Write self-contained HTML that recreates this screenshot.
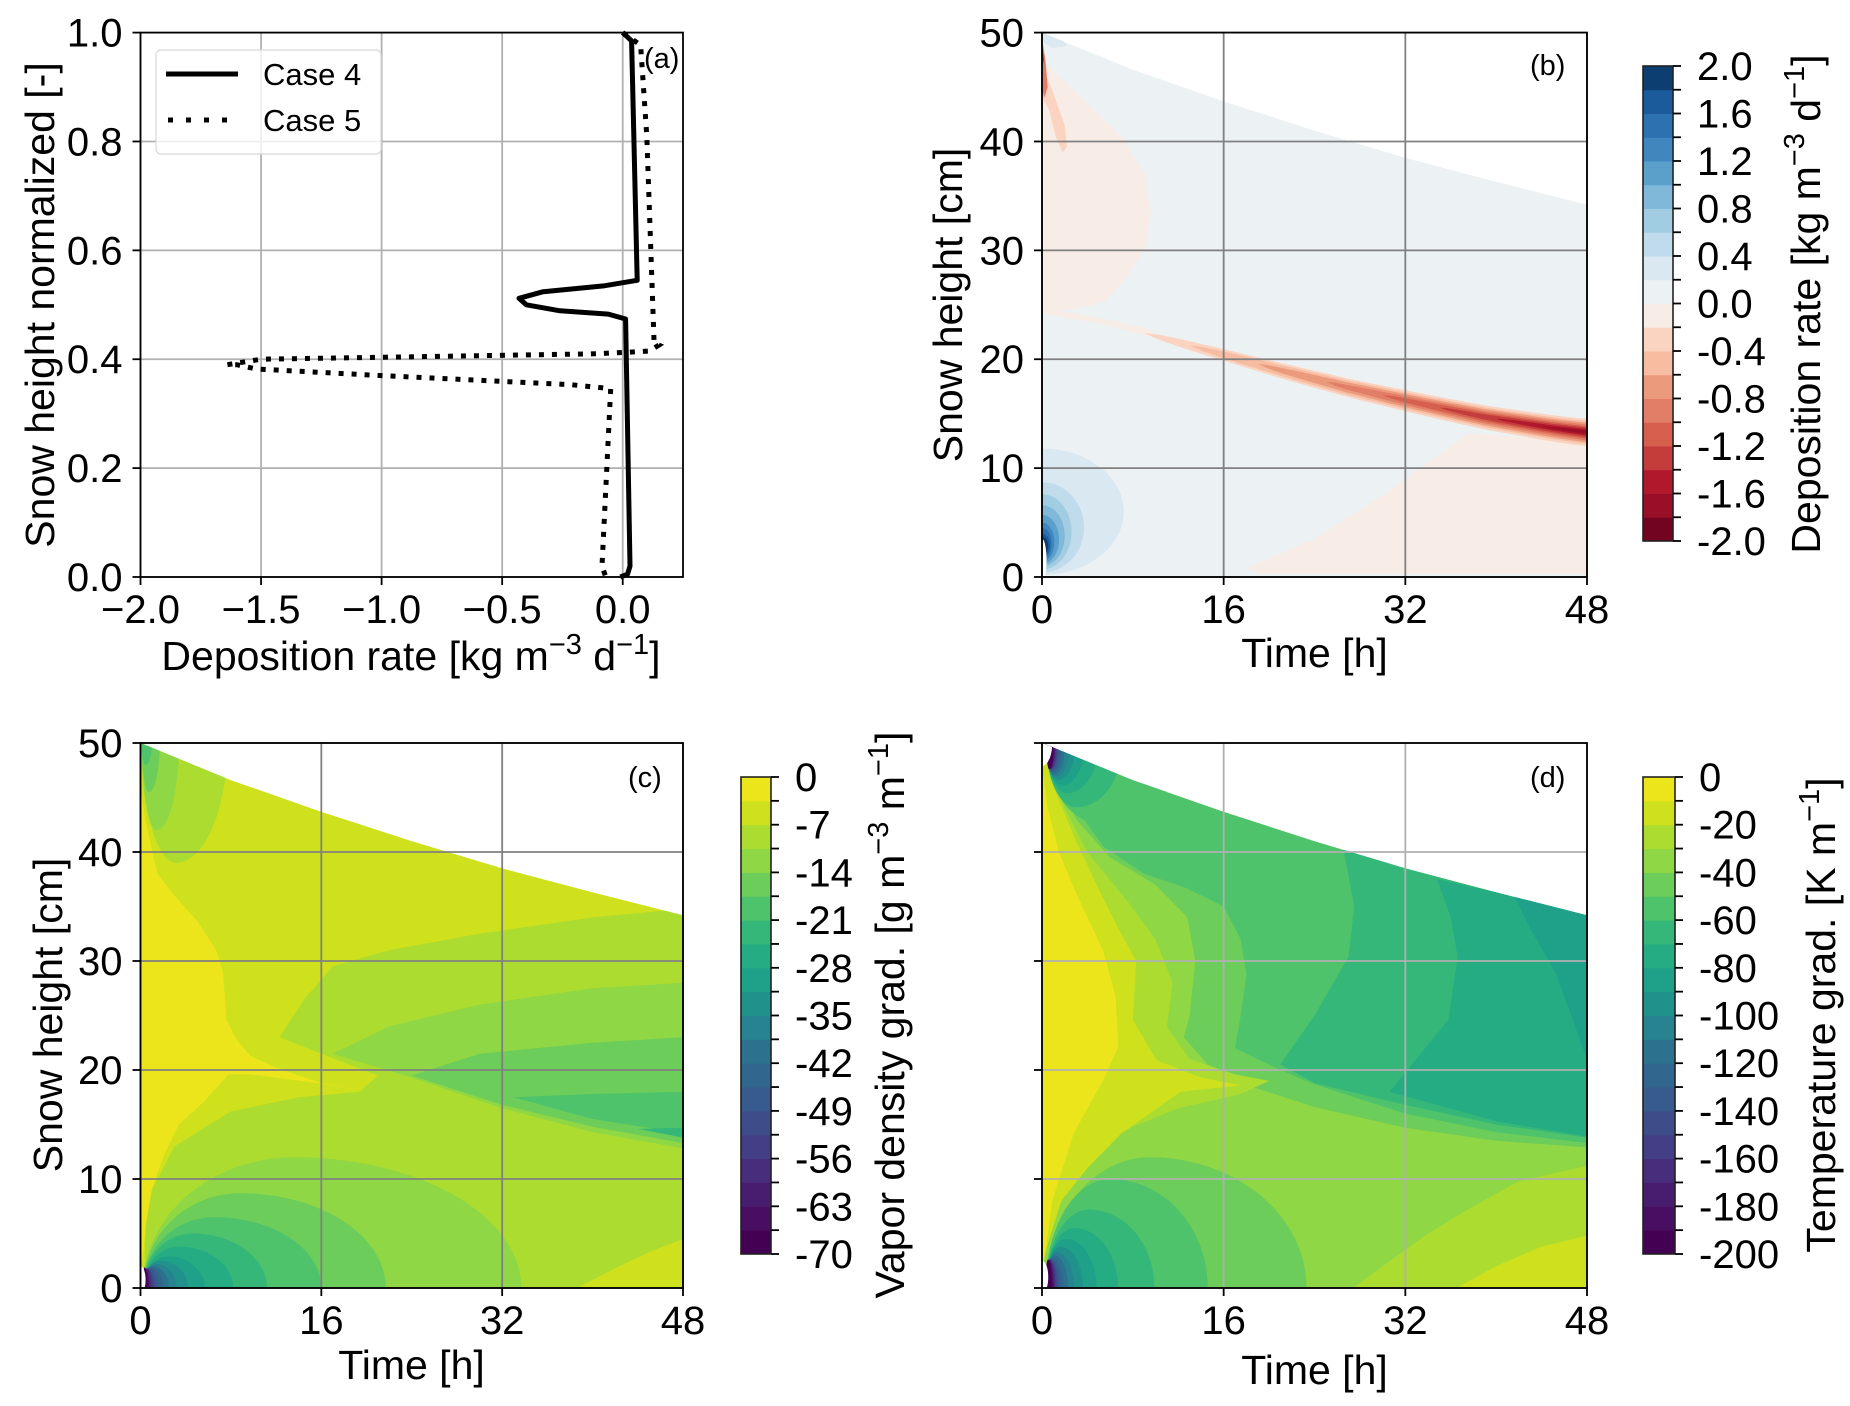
<!DOCTYPE html>
<html><head><meta charset="utf-8">
<style>
html,body{margin:0;padding:0;background:#fff;}
svg{display:block;font-family:"Liberation Sans",Arial,sans-serif;}
</style></head>
<body>
<svg id="fig" width="1850" height="1406" viewBox="0 0 1850 1406" xmlns="http://www.w3.org/2000/svg">
<defs id="defs"></defs>
</svg>
<script>
// ---------- Panel (a) data ----------
const aXTicks = [-2.0, -1.5, -1.0, -0.5, 0.0];
const aXTickLabels = ['\u22122.0', '\u22121.5', '\u22121.0', '\u22120.5', '0.0'];
const aYTicks = [0.0, 0.2, 0.4, 0.6, 0.8, 1.0];
const aYTickLabels = ['0.0', '0.2', '0.4', '0.6', '0.8', '1.0'];
const case4X = [0.0, 0.037, 0.06, -0.074, -0.33, -0.43, -0.40, -0.26, -0.06, 0.012, 0.03, 0.02, -0.01];
const case4Y = [1.0, 0.985, 0.545, 0.535, 0.524, 0.512, 0.50, 0.489, 0.483, 0.474, 0.02, 0.005, 0.0];
const case5X = [0.0, 0.074, 0.10, 0.13, 0.15, 0.11, -0.11, -1.5, -1.64, -1.60, -1.52, -1.0, -0.21, -0.05, -0.086, -0.07];
const case5Y = [1.0, 0.977, 0.81, 0.43, 0.426, 0.415, 0.41, 0.40, 0.39, 0.39, 0.382, 0.37, 0.353, 0.346, 0.02, 0.0];

// ---------- Shared time/height data ----------
const timeTicks = [0, 16, 32, 48];
const heightTicks = [0, 10, 20, 30, 40, 50];
const snowTimes = [0, 8, 16, 24, 32, 40, 48];
const snowTop = [50, 46.6, 43.7, 41.0, 38.5, 36.3, 34.2];

// ---------- Colormaps ----------
const rdbu = ['#730421','#990f27','#b2182b','#c43c3c','#d6604d','#e27e67','#ec9a7c','#f6bda2','#fad4c0','#f8ece6',
              '#ecf1f4','#d9e8f1','#c0dcec','#a2cce2','#7fb8d8','#5b9fcb','#4087c0','#2c71b0','#1b5a9b','#0c3e72'];
const viridis = ['#ede51b','#cfe11c','#addc30','#8fd744','#6ccd5a','#4ec36b','#35b779','#25ac82','#1fa088','#21918c',
                 '#26838f','#2c728e','#31668e','#375b8d','#3e4c8a','#433e85','#472d7b','#481d6f','#470e61','#440154'];
const bCbarLabels = ['2.0','1.6','1.2','0.8','0.4','0.0','-0.4','-0.8','-1.2','-1.6','-2.0'];
const cCbarLabels = ['0','-7','-14','-21','-28','-35','-42','-49','-56','-63','-70'];
const dCbarLabels = ['0','-20','-40','-60','-80','-100','-120','-140','-160','-180','-200'];

// ---------- Panel (b) contour data (time h, height cm), level index into rdbu ----------
const bBlobRedPts = [[0,24.5],[3,24.6],[5.5,25.3],[7.5,27.5],[9.2,30.5],[9.6,33.5],[9,37],[7,40.5],[4,43.5],[1.5,46],[0,47.5]];
const bBandPts = [[0,24.8],[6,23.6],[9,22.9],[12,21.4],[9,22.2],[5,23.3],[0,24.2]];
const bTrianglePts = [[18,0.8],[24,3.5],[30,7.5],[37.6,13.2],[48,12.4],[48,0.3],[19,0.3]];
const bSliver1 = [[0,47],[0.8,45],[2,41.5],[2.2,39.5],[1.8,39],[1.2,40.5],[0.6,43],[0,44]];
const bSliver2 = [[0,49.5],[0.3,47.5],[0.5,45],[0.2,44],[0,45]];
const bSliver3 = [[0,49.4],[0.15,47.5],[0,46.5]];
const bTopBlue = [[0,50],[1.5,49.6],[2.2,48.8],[1,48.6],[0.2,49]];
const streakT = [9, 15, 21, 27, 33, 39, 45, 48];
const streakZ = [22.4, 20.7, 19.0, 17.4, 16.0, 14.7, 13.7, 13.3];
const streakLevels = [8, 7, 6, 5, 4, 3, 2, 1];
const streakStart = [9, 13, 19, 25, 30, 35, 40, 44];
const streakHalfWidth = [1.2, 1.0, 0.85, 0.7, 0.55, 0.42, 0.28, 0.15];
const bBlueLevels = [11, 12, 13, 14, 15, 16, 17, 18, 19];
const bBlueT = [7.2, 3.7, 2.6, 2.0, 1.5, 1.1, 0.85, 0.7, 0.55];
const bBlueLo = [0.2, 0.4, 0.7, 1.0, 1.2, 1.4, 1.6, 1.8, 2.0];
const bBlueHi = [11.8, 8.7, 7.6, 6.6, 5.7, 5.0, 4.5, 4.0, 3.7];

// ---------- Panel (c) contour data, level index into viridis ----------
const cRegion2 = [[0.3,0],[0.5,8],[3,13],[8,16.2],[14,17.5],[19.4,18],[21,19.5],[16,21.5],[12.3,23],[14.5,26.5],[17,29.5],[22,31],[30,32.5],[40,34],[48,34.8],[48,0]];
const cRegion3 = [[17,21.5],[22,24],[30,26],[40,27.5],[48,28],[48,12.8],[40,14.3],[32,16.5],[24,19.3]];
const cRegion4 = [[24,19.5],[30,21.5],[40,22.5],[48,23],[48,13.3],[40,14.8],[32,16.8]];
const cRegion5 = [[33,17.5],[40,17.8],[48,18],[48,14.2],[40,15.5]];
const cRegion6 = [[44,14.6],[48,14.7],[48,13.8]];
const cYellowLeft = [[0,46],[0.4,43],[1.5,38],[3,36],[5,33.7],[6.7,31],[7.3,29],[7.5,26],[7.6,24.6],[8.5,22.8],[9.7,21.3],[12,20.2],[16,18.8],[19.4,18.2],[15,18.9],[9.8,19.6],[7.8,19.6],[5.5,17],[3.4,15],[2,12],[1,9],[0.5,6],[0.2,3],[0,2]];
const cYellowRight = [[38.6,0],[42,1.8],[45,3.3],[48,4.5],[48,0]];
const cBotLevels = [3,4,5,6,7,8,9,10,11,12,13,14,15,16,17,18,19];
const cBotT = [33.5,21.5,15.8,11,8,5.5,4,3,2.3,1.8,1.4,1.1,0.9,0.75,0.6,0.5,0.4];
const cBotZ = [12,8.7,6.5,5,3.8,2.9,2.5,2.2,2.0,1.9,1.85,1.8,1.8,1.8,1.8,1.8,1.9];
const cTopLevels = [2,3,4,5];
const cTopT = [7.6,3.3,1.6,0.9];
const cTopZ = [11,8,4.5,2];

// ---------- Panel (d) contour data ----------
const dRegion4 = [[0,50],[3,44],[5.4,40.5],[9,38],[12.7,36.7],[16,35],[17.5,32],[18,28.8],[17.5,25],[17,22],[21,20],[24,18.7],[32,16],[40,14.3],[48,13.3],[48,0],[0,0]];
const dRegion6 = [[26.4,41],[32,38.5],[40,36.3],[48,34.2],[48,13.8],[40,15],[32,16.8],[24,18.8],[21,20.5],[24,25],[27,30.4],[27.5,35]];
const dRegion7 = [[34.8,37.5],[40,36.3],[48,34.2],[48,13.9],[40,15.3],[30.6,18],[35.8,24.6],[36.6,30.4],[36,34]];
const dRegion8 = [[41.6,36],[48,34.2],[48,21],[45.3,28.8],[43,33]];
const dRegion3 = [[0,50],[0.5,49],[3,43],[6,39.5],[10,37],[12.8,34],[13.5,30],[13,25],[12.5,23],[15,20],[17.5,18.8],[24,16.6],[32,14.7],[40,13.5],[48,12.9],[48,0],[0,0]];
const dRegion2Right = [[27.4,0],[30,2],[34,5],[38,7.5],[42,9.8],[48,11.2],[48,0]];
const dRegion1Right = [[36.5,0],[40,2],[44,3.8],[48,4.8],[48,0]];
const dStrip2 = [[0,49.8],[2,44],[4,40],[7.5,35.5],[10,32],[11.5,28],[11,24],[13,21],[17,19.6],[20,19],[17.5,17.8],[12,16.5],[8,14.8],[5,13],[2.5,10.5],[1,7],[0,3]];
const dStrip1 = [[0,49.5],[1,46],[3,41],[4.8,37],[6.7,33],[8.3,30],[8,24.6],[10.1,20.9],[14,19.3],[17.5,18.6],[12.2,18],[7,14.2],[4,11],[1.7,8],[0.5,4],[0,2]];
const dStrip0 = [[0,48],[0.5,44],[1.5,40],[2.8,36.7],[5.4,30.9],[6.5,26.7],[6.7,22.1],[5.4,19.1],[2.8,14.2],[0.9,8],[0.2,2.6],[0,2]];
const dBotLevels = [4,5,6,7,8,9,10,11,12,13,14,15,16,17,18,19];
const dBotT = [23,14.3,9.6,6.4,4.5,3.3,2.5,2.0,1.6,1.3,1.1,0.95,0.85,0.75,0.65,0.55];
const dBotZ = [12,10,7.2,5.5,4.5,3.8,3.3,3.0,2.8,2.7,2.6,2.6,2.6,2.6,2.6,2.6];
const dTopLevels = [5,6,7,8,9,10,11,12,13,14,15,16,17,18,19];
const dTopT = [12,6.6,4.5,3.3,2.5,2.0,1.6,1.35,1.15,1.0,0.9,0.8,0.72,0.65,0.58];
const dTopZ = [7,5.5,4.2,3.5,3.0,2.7,2.5,2.3,2.2,2.1,2.0,2.0,2.0,2.0,2.0];

// ---------- Layout ----------
const NS = 'http://www.w3.org/2000/svg';
const svg = document.getElementById('fig');
const defs = document.getElementById('defs');
const PA = {x0:140.5, x1:683, y0:32.6, y1:577, xmin:-2, xmax:0.25, ymin:0, ymax:1};
const PB = {x0:1042, x1:1587, y0:32.6, y1:577, xmin:0, xmax:48, ymin:0, ymax:50};
const PC = {x0:140.5, x1:683, y0:743, y1:1288, xmin:0, xmax:48, ymin:0, ymax:50};
const PD = {x0:1042, x1:1587, y0:743, y1:1288, xmin:0, xmax:48, ymin:0, ymax:50};
const FS = 40;
const LFS = 41;
function sx(P, v) { return P.x0 + (v - P.xmin) / (P.xmax - P.xmin) * (P.x1 - P.x0); }
function sy(P, v) { return P.y1 - (v - P.ymin) / (P.ymax - P.ymin) * (P.y1 - P.y0); }
function el(tag, parent) { const e = document.createElementNS(NS, tag); parent.appendChild(e); return e; }
function ptsStr(P, pts) { return pts.map(p => sx(P, p[0]).toFixed(1) + ',' + sy(P, p[1]).toFixed(1)).join(' '); }

function region(P, g, pts, color, name) {
  const p = el('polygon', g);
  p.setAttribute('points', ptsStr(P, pts));
  p.setAttribute('fill', color);
  
  
  return p;
}
function lobePts(t0, z0, T, Z, dir) {
  const pts = [];
  for (let k = 0; k <= 48; k++) {
    const th = Math.PI * k / 48;
    const a = th < Math.PI / 2 ? 0.6 * T : 0.4 * T;
    pts.push([t0 + 0.4 * T + a * Math.cos(th), z0 + dir * Z * Math.sin(th)]);
  }
  pts.push([t0 - 0.5, z0 - dir * 1.5]);
  pts.push([t0 + T, z0 - dir * 1.5]);
  return pts;
}
function ellPts(T, lo, hi) {
  const pts = []; const mid = (lo + hi) / 2, h = (hi - lo) / 2;
  for (let k = 0; k <= 48; k++) {
    const th = -Math.PI / 2 + Math.PI * k / 48;
    pts.push([T * Math.cos(th), mid + h * Math.sin(th)]);
  }
  pts.push([-1, hi]); pts.push([-1, lo]);
  return pts;
}
function domainPts() {
  const pts = [[0, 0]];
  for (let i = 0; i < snowTimes.length; i++) pts.push([snowTimes[i], snowTop[i]]);
  pts.push([48, 0]);
  return pts;
}
function makeClip(P, id) {
  const cp = el('clipPath', defs);
  cp.setAttribute('id', id);
  const p = el('polygon', cp);
  p.setAttribute('points', ptsStr(P, domainPts()));
}
function text(parent, x, y, str, size, anchor) {
  const t = el('text', parent);
  t.setAttribute('x', x); t.setAttribute('y', y);
  t.setAttribute('font-size', size);
  t.setAttribute('text-anchor', anchor || 'middle');
  t.textContent = str;
  return t;
}
function grid(P, g, xs, ys, color) {
  xs.forEach(v => {
    const l = el('line', g);
    l.setAttribute('x1', sx(P, v)); l.setAttribute('x2', sx(P, v));
    l.setAttribute('y1', P.y0); l.setAttribute('y2', P.y1);
    l.setAttribute('stroke', color); l.setAttribute('stroke-width', 1.8);
    
    
  });
  ys.forEach(v => {
    const l = el('line', g);
    l.setAttribute('x1', P.x0); l.setAttribute('x2', P.x1);
    l.setAttribute('y1', sy(P, v)); l.setAttribute('y2', sy(P, v));
    l.setAttribute('stroke', color); l.setAttribute('stroke-width', 1.8);
    
    
  });
}
function axes(P, g, xs, xl, ys, yl) {
  const r = el('rect', g);
  r.setAttribute('x', P.x0); r.setAttribute('y', P.y0);
  r.setAttribute('width', P.x1 - P.x0); r.setAttribute('height', P.y1 - P.y0);
  r.setAttribute('fill', 'none'); r.setAttribute('stroke', '#000'); r.setAttribute('stroke-width', 1.8);
  
  
  xs.forEach((v, i) => {
    const l = el('line', g);
    l.setAttribute('x1', sx(P, v)); l.setAttribute('x2', sx(P, v));
    l.setAttribute('y1', P.y1); l.setAttribute('y2', P.y1 + 8);
    l.setAttribute('stroke', '#000'); l.setAttribute('stroke-width', 1.8);
    
    
    const t = text(g, sx(P, v), P.y1 + 46, xl[i], FS);
    
    
  });
  ys.forEach((v, i) => {
    const l = el('line', g);
    l.setAttribute('x1', P.x0 - 8); l.setAttribute('x2', P.x0);
    l.setAttribute('y1', sy(P, v)); l.setAttribute('y2', sy(P, v));
    l.setAttribute('stroke', '#000'); l.setAttribute('stroke-width', 1.8);
    
    
    if (yl) {
      const t = text(g, P.x0 - 18, sy(P, v) + 14, yl[i], FS, 'end');
      
      
    }
  });
}
function addParts(t, parts) {
  parts.forEach(p => {
    const s = el('tspan', t);
    s.textContent = p[0];
    if (p[1]) s.setAttribute('dy', p[1]);
    if (p[2]) s.setAttribute('font-size', 29);
  });
}
function rotLabel(parent, x, y, parts, name) {
  const t = el('text', parent);
  t.setAttribute('x', x); t.setAttribute('y', y);
  t.setAttribute('font-size', LFS);
  t.setAttribute('text-anchor', 'middle');
  t.setAttribute('transform', 'rotate(-90 ' + x + ' ' + y + ')');
  addParts(t, parts);
  
  
  return t;
}
function colorbar(g, x0, x1, y0, y1, colorsBottomUp, labels, name) {
  const n = colorsBottomUp.length, h = (y1 - y0) / n;
  for (let i = 0; i < n; i++) {
    const r = el('rect', g);
    r.setAttribute('x', x0); r.setAttribute('y', y1 - (i + 1) * h);
    r.setAttribute('width', x1 - x0); r.setAttribute('height', h + 0.5);
    r.setAttribute('fill', colorsBottomUp[i]);
    
    
  }
  const o = el('rect', g);
  o.setAttribute('x', x0); o.setAttribute('y', y0);
  o.setAttribute('width', x1 - x0); o.setAttribute('height', y1 - y0);
  o.setAttribute('fill', 'none'); o.setAttribute('stroke', '#222'); o.setAttribute('stroke-width', 1.6);
  
  
  for (let i = 0; i <= n; i++) {
    const y = y0 + i * h;
    const l = el('line', g);
    l.setAttribute('x1', x1); l.setAttribute('x2', x1 + 8);
    l.setAttribute('y1', y); l.setAttribute('y2', y);
    l.setAttribute('stroke', '#000'); l.setAttribute('stroke-width', 1.8);
    
    
    if (i % 2 === 0) {
      const t = text(g, x1 + 24, y + 14, labels[i / 2], FS, 'start');
      
      
    }
  }
}
const depUnit = [['Deposition rate [kg m'], ['\u22123', -16, true], [' d', 16], ['\u22121', -16, true], [']', 16]];

// ================= Panel (a) =================
const ga = el('g', svg);


grid(PA, ga, aXTicks, aYTicks, '#b0b0b0');
function linePath(P, xs, ys) { return xs.map((v, i) => (i ? 'L' : 'M') + sx(P, v).toFixed(1) + ',' + sy(P, ys[i]).toFixed(1)).join(' '); }
const c5 = el('path', ga);
c5.setAttribute('d', linePath(PA, case5X, case5Y));
c5.setAttribute('fill', 'none'); c5.setAttribute('stroke', '#000'); c5.setAttribute('stroke-width', 5);
c5.setAttribute('stroke-dasharray', '5 8');


const c4 = el('path', ga);
c4.setAttribute('d', linePath(PA, case4X, case4Y));
c4.setAttribute('fill', 'none'); c4.setAttribute('stroke', '#000'); c4.setAttribute('stroke-width', 5);
c4.setAttribute('stroke-linejoin', 'round');


axes(PA, ga, aXTicks, aXTickLabels, aYTicks, aYTickLabels);
const lg = el('g', ga);


const lb = el('rect', lg);
lb.setAttribute('x', 156); lb.setAttribute('y', 50); lb.setAttribute('width', 225); lb.setAttribute('height', 104);
lb.setAttribute('rx', 5); lb.setAttribute('fill', 'rgba(255,255,255,0.8)'); lb.setAttribute('stroke', '#d8d8d8'); lb.setAttribute('stroke-width', 1.2);


const l4 = el('line', lg);
l4.setAttribute('x1', 166); l4.setAttribute('x2', 238); l4.setAttribute('y1', 74); l4.setAttribute('y2', 74);
l4.setAttribute('stroke', '#000'); l4.setAttribute('stroke-width', 5);


const t4 = text(lg, 263, 85, 'Case 4', 31, 'start');


const l5 = el('line', lg);
l5.setAttribute('x1', 168); l5.setAttribute('x2', 238); l5.setAttribute('y1', 120); l5.setAttribute('y2', 120);
l5.setAttribute('stroke', '#000'); l5.setAttribute('stroke-width', 5); l5.setAttribute('stroke-dasharray', '5 13');


const t5 = text(lg, 263, 131, 'Case 5', 31, 'start');


const pa = text(ga, 644, 68, '(a)', 29, 'start');


const xla = el('text', ga);
xla.setAttribute('x', 411); xla.setAttribute('y', 670); xla.setAttribute('font-size', LFS); xla.setAttribute('text-anchor', 'middle');
addParts(xla, depUnit);


rotLabel(ga, 54, 305, [['Snow height normalized [-]']], 'y-axis-title-a');

// ================= Panel (b) =================
makeClip(PB, 'clipB');
const gb = el('g', svg);


const fb = el('g', gb);
fb.setAttribute('clip-path', 'url(#clipB)');


region(PB, fb, domainPts(), rdbu[10], 'contour-zero-level');
region(PB, fb, bBlobRedPts, rdbu[9], 'contour-negative-blob');
region(PB, fb, bBandPts, rdbu[9], 'contour-negative-band');
region(PB, fb, bTrianglePts, rdbu[9], 'contour-negative-triangle');
function streakCenter(t) {
  for (let i = 0; i < streakT.length - 1; i++) {
    if (t <= streakT[i + 1]) { const f = (t - streakT[i]) / (streakT[i + 1] - streakT[i]); return streakZ[i] + f * (streakZ[i + 1] - streakZ[i]); }
  }
  return streakZ[streakZ.length - 1];
}
streakLevels.forEach((lv, i) => {
  const ts = streakStart[i], hw = streakHalfWidth[i];
  const up = [], dn = [];
  for (let k = 0; k <= 30; k++) {
    const t = ts + (48.5 - ts) * k / 30;
    const w = hw * Math.pow(Math.min(1, (t - ts) / (48 - ts)), 0.5);
    up.push([t, streakCenter(t) + w]); dn.push([t, streakCenter(t) - w * 1.1]);
  }
  region(PB, fb, up.concat(dn.reverse()), rdbu[lv], 'contour-streak-level');
});
region(PB, fb, bSliver1, rdbu[8], 'contour-top-sliver');
region(PB, fb, bSliver2, rdbu[5], 'contour-top-sliver');
region(PB, fb, bSliver3, rdbu[1], 'contour-top-sliver');
region(PB, fb, bTopBlue, rdbu[11], 'contour-top-positive');
bBlueLevels.forEach((lv, i) => region(PB, fb, ellPts(bBlueT[i], bBlueLo[i], bBlueHi[i]), rdbu[lv], 'contour-positive-blob'));
region(PB, fb, ellPts(0.4, -0.5, 3.5), '#ffffff', 'contour-missing');
grid(PB, gb, timeTicks, heightTicks, '#808080');
axes(PB, gb, timeTicks, timeTicks.map(String), heightTicks, heightTicks.map(String));
const pb = text(gb, 1530, 75, '(b)', 29, 'start');


const xlb = text(gb, 1314.5, 667, 'Time [h]', LFS);


rotLabel(gb, 962, 305, [['Snow height [cm]']], 'y-axis-title-b');
const cbb = el('g', gb);


colorbar(cbb, 1643, 1673, 66, 541, rdbu, bCbarLabels, 'colorbar-b');
rotLabel(cbb, 1820, 304, depUnit, 'colorbar-b-title');

// ================= Panel (c) =================
makeClip(PC, 'clipC');
const gc = el('g', svg);


const fc = el('g', gc);
fc.setAttribute('clip-path', 'url(#clipC)');


region(PC, fc, domainPts(), viridis[1], 'contour-base');
region(PC, fc, cRegion2, viridis[2], 'contour-level-2');
region(PC, fc, cRegion3, viridis[3], 'contour-level-3');
region(PC, fc, cRegion4, viridis[4], 'contour-level-4');
region(PC, fc, cRegion5, viridis[5], 'contour-level-5');
region(PC, fc, cRegion6, viridis[6], 'contour-level-6');
region(PC, fc, cYellowLeft, viridis[0], 'contour-level-0-left');
region(PC, fc, cYellowRight, viridis[1], 'contour-level-1-right');
cTopLevels.forEach((lv, i) => region(PC, fc, lobePts(0.1, 50, cTopT[i], cTopZ[i], -1), viridis[lv], 'contour-top-lobe'));
cBotLevels.forEach((lv, i) => region(PC, fc, lobePts(0.2, 0, cBotT[i], cBotZ[i], 1), viridis[lv], 'contour-bottom-lobe'));
region(PC, fc, ellPts(0.45, -0.5, 2.0), '#ffffff', 'contour-missing');
grid(PC, gc, timeTicks, heightTicks, '#808080');
axes(PC, gc, timeTicks, timeTicks.map(String), heightTicks, heightTicks.map(String));
const pc = text(gc, 628, 787, '(c)', 29, 'start');


const xlc = text(gc, 411.5, 1379, 'Time [h]', LFS);


rotLabel(gc, 62, 1015, [['Snow height [cm]']], 'y-axis-title-c');
const cbc = el('g', gc);


colorbar(cbc, 741, 771, 777, 1254, viridis.slice().reverse(), cCbarLabels, 'colorbar-c');
rotLabel(cbc, 904, 1015, [['Vapor density grad. [g m'], ['\u22123', -16, true], [' m', 16], ['\u22121', -16, true], [']', 16]], 'colorbar-c-title');

// ================= Panel (d) =================
makeClip(PD, 'clipD');
const gd = el('g', svg);


const fd = el('g', gd);
fd.setAttribute('clip-path', 'url(#clipD)');


region(PD, fd, domainPts(), viridis[5], 'contour-base');
region(PD, fd, dRegion4, viridis[4], 'contour-level-4');
region(PD, fd, dRegion6, viridis[6], 'contour-level-6');
region(PD, fd, dRegion7, viridis[7], 'contour-level-7');
region(PD, fd, dRegion8, viridis[8], 'contour-level-8');
region(PD, fd, dRegion3, viridis[3], 'contour-level-3');
region(PD, fd, dRegion2Right, viridis[2], 'contour-level-2-right');
region(PD, fd, dRegion1Right, viridis[1], 'contour-level-1-right');
region(PD, fd, dStrip2, viridis[2], 'contour-level-2-left');
region(PD, fd, dStrip1, viridis[1], 'contour-level-1-left');
region(PD, fd, dStrip0, viridis[0], 'contour-level-0-left');
dTopLevels.forEach((lv, i) => region(PD, fd, lobePts(0.4, 49.6, dTopT[i], dTopZ[i], -1), viridis[lv], 'contour-top-lobe'));
dBotLevels.forEach((lv, i) => region(PD, fd, lobePts(0.3, 0, dBotT[i], dBotZ[i], 1), viridis[lv], 'contour-bottom-lobe'));
region(PD, fd, ellPts(0.55, -0.5, 2.5), '#ffffff', 'contour-missing');
region(PD, fd, ellPts(0.9, 47.9, 52), '#ffffff', 'contour-missing');
grid(PD, gd, timeTicks, heightTicks, '#b0b0b0');
axes(PD, gd, timeTicks, timeTicks.map(String), heightTicks, null);
const pd = text(gd, 1530, 787, '(d)', 29, 'start');


const xld = text(gd, 1314.5, 1384, 'Time [h]', LFS);


const cbd = el('g', gd);


colorbar(cbd, 1643, 1675, 777, 1254, viridis.slice().reverse(), dCbarLabels, 'colorbar-d');
rotLabel(cbd, 1835, 1015, [['Temperature grad. [K m'], ['\u22121', -16, true], [']', 16]], 'colorbar-d-title');
</script>
</body></html>
